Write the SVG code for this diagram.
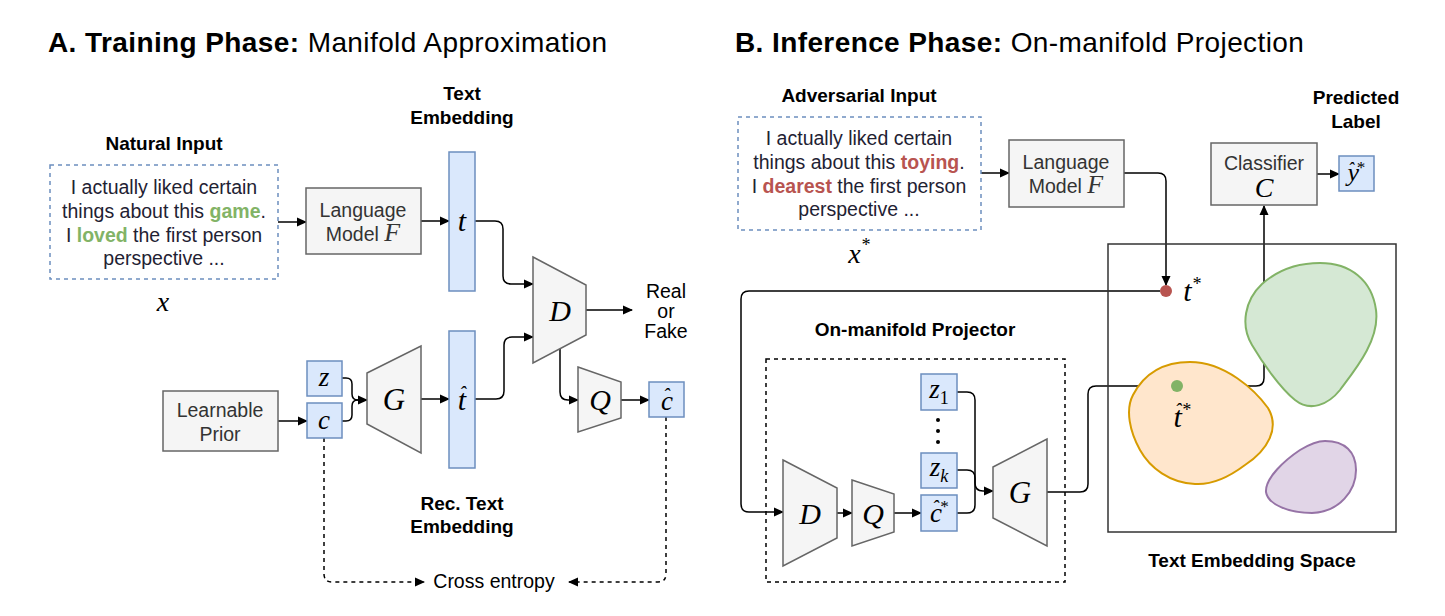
<svg xmlns="http://www.w3.org/2000/svg" width="1445" height="616" viewBox="0 0 1445 616">
<defs>
<marker id="ah" markerWidth="10" markerHeight="10" refX="9" refY="5" orient="auto" markerUnits="userSpaceOnUse">
<path d="M0,0.5 L10,5 L0,9.5 Z" fill="#000"/>
</marker>
<style>
.title{font-family:"Liberation Sans",Arial,sans-serif;font-size:28px;letter-spacing:0.4px;fill:#000}
.lbl{font-family:"Liberation Sans",Arial,sans-serif;font-size:19px;font-weight:bold;fill:#000;text-anchor:middle}
.txt{font-family:"Liberation Sans",Arial,sans-serif;font-size:19.5px;fill:#1f2233;text-anchor:middle}
.ntxt{font-family:"Liberation Sans",Arial,sans-serif;font-size:19.5px;fill:#333;text-anchor:middle}
.plain{font-family:"Liberation Sans",Arial,sans-serif;font-size:19.5px;fill:#000;text-anchor:middle}
.m{font-family:"Liberation Serif","Times New Roman",serif;font-style:italic;fill:#000;text-anchor:middle}
.mf{font-family:"Liberation Serif","Times New Roman",serif;font-style:italic;font-size:26px}
.gbox{fill:#f5f5f5;stroke:#666;stroke-width:1.5}
.bbox{fill:#dae8fc;stroke:#6c8ebf;stroke-width:1.5}
.inbox{fill:none;stroke:#6c8ebf;stroke-width:1.5;stroke-dasharray:4 4}
.trap{fill:#f5f5f5;stroke:#666;stroke-width:1.5}
.c{fill:none;stroke:#000;stroke-width:1.5}
.ca{fill:none;stroke:#000;stroke-width:1.5;marker-end:url(#ah)}
.cd{fill:none;stroke:#000;stroke-width:1.5;stroke-dasharray:4 4;marker-end:url(#ah)}
.gw{fill:#82b366;font-weight:bold}
.rw{fill:#b85450;font-weight:bold}
</style>
</defs>
<rect width="1445" height="616" fill="#fff"/>

<!-- Titles -->
<text class="title" x="48" y="52"><tspan font-weight="bold">A. Training Phase:</tspan> Manifold Approximation</text>
<text class="title" x="735" y="52"><tspan font-weight="bold">B. Inference Phase:</tspan> On-manifold Projection</text>

<!-- Connectors -->
<g id="connectors">
<path class="ca" d="M278,222 H306"/>
<path class="ca" d="M421,221 H449"/>
<path class="ca" d="M475,221 H495 Q503,221 503,229 V276 Q503,284 511,284 H533"/>
<path class="ca" d="M475,399 H496 Q504,399 504,391 V345 Q504,337 512,337 H533"/>
<path class="ca" d="M586,310 H632"/>
<path class="ca" d="M560,349 V392 Q560,400 568,400 H578"/>
<path class="ca" d="M621,400 H649"/>
<path class="ca" d="M278,421 H307"/>
<path class="ca" d="M342,378 H346 Q352,378 352,384 V394 Q352,400 358,400 H367"/>
<path class="c" d="M342,421 H346 Q352,421 352,415 V406 Q352,400 358,400"/>
<path class="ca" d="M421,399 H449"/>
<path class="cd" d="M324,438 V574 Q324,582 332,582 H424"/>
<path class="cd" d="M666,417 V574 Q666,582 658,582 H569"/>

<path class="ca" d="M981,173 H1009"/>
<path class="ca" d="M1124,173 H1158 Q1166,173 1166,181 V285"/>
<path class="ca" d="M1160,291 H749 Q741,291 741,299 V504 Q741,512 749,512 H783"/>
<path class="ca" d="M837,513 H852"/>
<path class="ca" d="M894,513 H921"/>
<path class="ca" d="M957,392 H967 Q975,392 975,400 V483 Q975,491 983,491 H993"/>
<path class="c" d="M957,470 H967 Q975,470 975,478 V491"/>
<path class="c" d="M957,513 H967 Q975,513 975,505 V491"/>
<path class="ca" d="M1047,492 H1080 Q1088,492 1088,484 V394 Q1088,386 1096,386 H1171"/>
<path class="ca" d="M1177,386 H1256 Q1264,386 1264,378 V206"/>
<path class="ca" d="M1317,174 H1339"/>
</g>

<!-- Left panel nodes -->
<g id="natural-input">
<text class="lbl" x="164" y="150">Natural Input</text>
<rect class="inbox" x="50" y="165" width="228" height="114"/>
<text class="txt" x="164" y="194">I actually liked certain</text>
<text class="txt" x="164" y="218">things about this <tspan class="gw">game</tspan>.</text>
<text class="txt" x="164" y="242">I <tspan class="gw">loved</tspan> the first person</text>
<text class="txt" x="164" y="265">perspective ...</text>
<text class="m" x="163" y="311" font-size="28">x</text>
</g>
<g id="lm-left">
<rect class="gbox" x="306" y="188" width="115" height="66"/>
<text class="ntxt" x="363" y="217">Language</text>
<text class="ntxt" x="363" y="241">Model <tspan class="mf">F</tspan></text>
</g>
<g id="t-embedding">
<text class="lbl" x="462" y="100">Text</text>
<text class="lbl" x="462" y="124">Embedding</text>
<rect class="bbox" x="449" y="152" width="26" height="139"/>
<text class="m" x="462" y="231" font-size="30">t</text>
</g>
<g id="D-left">
<polygon class="trap" points="533,257 586,285 586,335 533,363"/>
<text class="m" x="560" y="321" font-size="30">D</text>
</g>
<g id="real-fake">
<text class="plain" x="666" y="298">Real</text>
<text class="plain" x="666" y="318">or</text>
<text class="plain" x="666" y="338">Fake</text>
</g>
<g id="prior">
<rect class="gbox" x="163" y="391" width="115" height="60"/>
<text class="ntxt" x="220" y="417">Learnable</text>
<text class="ntxt" x="220" y="441">Prior</text>
</g>
<g id="z-left">
<rect class="bbox" x="307" y="361" width="35" height="35"/>
<text class="m" x="324" y="386" font-size="27">z</text>
</g>
<g id="c-left">
<rect class="bbox" x="307" y="403" width="35" height="35"/>
<text class="m" x="324" y="429" font-size="27">c</text>
</g>
<g id="G-left">
<polygon class="trap" points="367,373 421,346 421,453 367,424"/>
<text class="m" x="394" y="410" font-size="31">G</text>
</g>
<g id="that-embedding">
<rect class="bbox" x="449" y="331" width="26" height="137"/>
<text class="m" x="462" y="410" font-size="30">t<tspan dx="-7" dy="-9" font-size="20">ˆ</tspan></text>
<text class="lbl" x="462" y="510">Rec. Text</text>
<text class="lbl" x="462" y="533">Embedding</text>
</g>
<g id="Q-left">
<polygon class="trap" points="578,367 621,382 621,418 578,432"/>
<text class="m" x="600" y="410" font-size="30">Q</text>
</g>
<g id="chat-left">
<rect class="bbox" x="649" y="382" width="35" height="35"/>
<text class="m" x="667" y="410" font-size="27">c<tspan dx="-10" dy="-7" font-size="20">ˆ</tspan></text>
</g>
<g id="cross-entropy">
<text class="plain" x="494" y="588">Cross entropy</text>
</g>

<!-- Right panel nodes -->
<g id="adv-input">
<text class="lbl" x="859" y="102">Adversarial Input</text>
<rect class="inbox" x="738" y="117" width="243" height="113"/>
<text class="txt" x="859" y="145">I actually liked certain</text>
<text class="txt" x="859" y="169">things about this <tspan class="rw">toying</tspan>.</text>
<text class="txt" x="859" y="193">I <tspan class="rw">dearest</tspan> the first person</text>
<text class="txt" x="859" y="216">perspective ...</text>
<text class="m" x="859" y="263" font-size="28">x<tspan dy="-12" font-size="18">*</tspan></text>
</g>
<g id="lm-right">
<rect class="gbox" x="1009" y="140" width="115" height="67"/>
<text class="ntxt" x="1066" y="169">Language</text>
<text class="ntxt" x="1066" y="193">Model <tspan class="mf">F</tspan></text>
</g>
<g id="classifier">
<rect class="gbox" x="1211" y="143" width="106" height="62"/>
<text class="ntxt" x="1264" y="170">Classifier</text>
<text class="m" x="1264" y="197" font-size="28">C</text>
</g>
<g id="yhat">
<text class="lbl" x="1356" y="104">Predicted</text>
<text class="lbl" x="1356" y="128">Label</text>
<rect class="bbox" x="1339" y="156" width="35" height="35"/>
<text class="m" x="1356" y="181" font-size="26">y<tspan dx="-11" dy="-6" font-size="18">ˆ</tspan><tspan dx="2" dy="-2" font-size="17">*</tspan></text>
</g>
<g id="embedding-space">
<rect x="1108" y="244" width="288" height="288" fill="none" stroke="#333" stroke-width="1.5"/>
<path d="M1320,263 C1350,263 1372,280 1376,310 C1380,340 1355,370 1340,390 C1328,405 1310,412 1295,400 C1280,388 1262,362 1252,345 C1240,325 1245,300 1262,284 C1280,268 1300,263 1320,263 Z" fill="#d5e8d4" stroke="#82b366" stroke-width="2"/>
<path d="M1190,362 C1225,362 1255,390 1268,408 C1280,428 1268,450 1245,465 C1225,480 1210,485 1195,484 C1170,483 1150,468 1140,450 C1130,432 1125,410 1133,395 C1145,372 1165,362 1190,362 Z" fill="#ffe6cc" stroke="#d79b00" stroke-width="2"/>
<path d="M1325,441 C1345,441 1356,452 1356,470 C1356,490 1340,512 1312,513 C1290,513 1268,505 1266,492 C1265,478 1285,460 1300,450 C1310,444 1318,441 1325,441 Z" fill="#e1d5e7" stroke="#9673a6" stroke-width="2"/>
<text class="lbl" x="1252" y="567">Text Embedding Space</text>
</g>
<g id="tstar">
<circle cx="1166" cy="291" r="6" fill="#b85450"/>
<text class="m" x="1192" y="301" font-size="30">t<tspan dy="-11" font-size="18">*</tspan></text>
</g>
<g id="thatstar">
<circle cx="1177" cy="386" r="6" fill="#82b366"/>
<text class="m" x="1182" y="427" font-size="30">t<tspan dx="-7" dy="-9" font-size="20">ˆ</tspan><tspan dx="0" dy="-2" font-size="18">*</tspan></text>
</g>
<g id="projector">
<text class="lbl" x="915" y="336">On-manifold Projector</text>
<rect x="766" y="359" width="299" height="223" fill="none" stroke="#000" stroke-width="1.5" stroke-dasharray="4 4"/>
</g>
<g id="D-right">
<polygon class="trap" points="783,460 837,488 837,538 783,566"/>
<text class="m" x="810" y="524" font-size="30">D</text>
</g>
<g id="Q-right">
<polygon class="trap" points="852,480 894,494 894,532 852,546"/>
<text class="m" x="873" y="524" font-size="30">Q</text>
</g>
<g id="z1">
<rect class="bbox" x="921" y="374" width="36" height="36"/>
<text class="m" x="939" y="398" font-size="27">z<tspan dy="6" font-size="18" font-style="normal">1</tspan></text>
</g>
<g id="dots">
<circle cx="938" cy="420" r="2" fill="#000"/>
<circle cx="938" cy="431" r="2" fill="#000"/>
<circle cx="938" cy="442" r="2" fill="#000"/>
</g>
<g id="zk">
<rect class="bbox" x="921" y="453" width="36" height="35"/>
<text class="m" x="939" y="476" font-size="27">z<tspan dy="6" font-size="18">k</tspan></text>
</g>
<g id="chatstar">
<rect class="bbox" x="921" y="495" width="36" height="36"/>
<text class="m" x="939" y="522" font-size="27">c<tspan dx="-10" dy="-7" font-size="20">ˆ</tspan><tspan dx="1" dy="-3" font-size="17">*</tspan></text>
</g>
<g id="G-right">
<polygon class="trap" points="993,467 1047,439 1047,546 993,518"/>
<text class="m" x="1020" y="503" font-size="31">G</text>
</g>
</svg>
